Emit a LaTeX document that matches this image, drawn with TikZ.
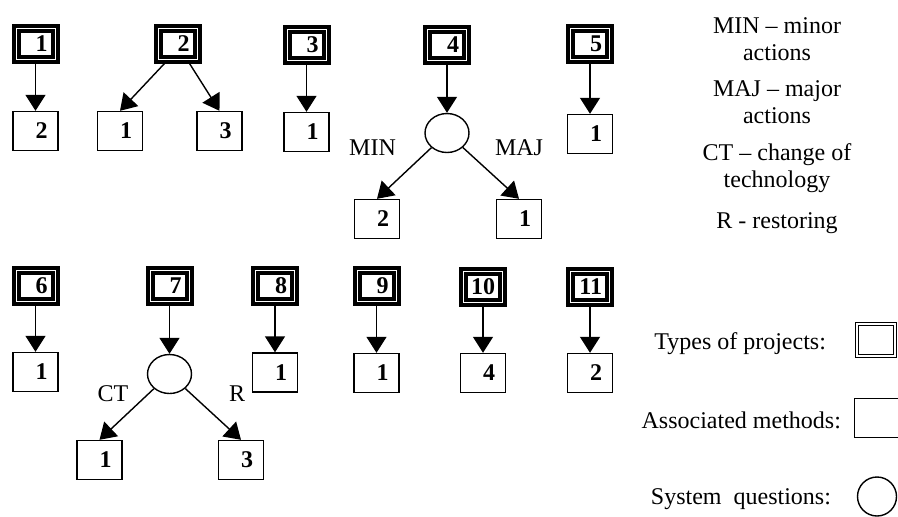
\documentclass[tikz,border=0pt]{standalone}
\usepackage{fontspec}
\setmainfont{Liberation Serif}
\usetikzlibrary{arrows.meta,shapes.geometric}

\tikzset{
  project/.style={draw, line width=0.8pt, double, double distance=0.5pt,
    preaction={draw, line width=4.5pt},
    minimum width=19.5pt, minimum height=15.5pt, inner sep=0pt,
    text width=12pt, align=right, font=\fontsize{12}{14}\selectfont\bfseries},
  method/.style={draw, line width=0.7pt, minimum width=22.5pt, minimum height=19.5pt,
    inner sep=0pt, text width=12pt, align=right, font=\fontsize{12}{14}\selectfont\bfseries},
  question/.style={draw, ellipse, line width=0.7pt, minimum width=22pt,
    minimum height=19.5pt, inner sep=0pt},
  link/.style={-{Triangle[width=10pt,length=8pt]}, line width=0.7pt},
}

\begin{document}
\begin{tikzpicture}[x=0.5pt, y=-0.5pt, every node/.style={font=\fontsize{12}{14}\selectfont}]
    \useasboundingbox (0,0) rectangle (898,516);

    % first row
    \node[project] (T1) at (35.5,44) {1};
    \node[project] (T2) at (177.5,44) {2};
    \node[project] (T3) at (306.5,45) {3};
    \node[project] (T4) at (447,45) {4};
    \node[project] (T5) at (590,44) {5};

    \node[method] (M1) at (35.5,131) {2};
    \node[method] (M2a) at (120,131) {1};
    \node[method] (M2b) at (219.5,131) {3};
    \node[method] (M3) at (306.5,132) {1};
    \node[question] (Q4) at (447,133) {};
    \node[method] (M4a) at (377,219) {2};
    \node[method] (M4b) at (519,219) {1};
    \node[method] (M5) at (590,134) {1};

    \draw[link] (T1) -- (M1);
    \draw[link] ([xshift=-5pt]T2.south) -- (M2a.north);
    \draw[link] ([xshift=5pt]T2.south) -- (M2b.north);
    \draw[link] (T3) -- (M3);
    \draw[link] (T4) -- (Q4);
    \draw[link] (Q4) -- (M4a.north);
    \draw[link] (Q4) -- (M4b.north);
    \draw[link] (T5) -- (M5);

    \node[anchor=base] (MIN) at (372.5,155) {MIN};
    \node[anchor=base] (MAJ) at (519,155) {MAJ};

    % second row
    \node[project] (T6) at (35.5,286) {6};
    \node[project] (T7) at (169.5,286) {7};
    \node[project] (T8) at (275,286) {8};
    \node[project] (T9) at (376.5,286) {9};
    \node[project] (T10) at (483,287) {10};
    \node[project] (T11) at (590,287) {11};

    \node[method] (M6) at (35.5,372) {1};
    \node[question] (Q7) at (169.5,374) {};
    \node[method] (M7a) at (99.5,460) {1};
    \node[method] (M7b) at (241,460) {3};
    \node[method] (M8) at (275,372.5) {1};
    \node[method] (M9) at (376.5,373) {1};
    \node[method] (M10) at (483,373) {4};
    \node[method] (M11) at (590,373) {2};

    \draw[link] (T6) -- (M6);
    \draw[link] (T7) -- (Q7);
    \draw[link] (Q7) -- (M7a.north);
    \draw[link] (Q7) -- (M7b.north);
    \draw[link] (T8) -- (M8);
    \draw[link] (T9) -- (M9);
    \draw[link] (T10) -- (M10);
    \draw[link] (T11) -- (M11);

    \node[anchor=base] (CT) at (113,401) {CT};
    \node[anchor=base] (R) at (237,401) {R};

    % abbreviations
    \node[anchor=base] (L1) at (777,33) {MIN -- minor};
    \node[anchor=base] (L1b) at (777,60) {actions};
    \node[anchor=base] (L2) at (777,96) {MAJ -- major};
    \node[anchor=base] (L2b) at (777,123) {actions};
    \node[anchor=base] (L3) at (777,160) {CT -- change of};
    \node[anchor=base] (L3b) at (777,187) {technology};
    \node[anchor=base] (L4) at (777,228) {R - restoring};

    % key
    \node[anchor=base east] (KT) at (833,349) {Types of projects:};
    \node[draw, double, line width=0.5pt, double distance=1pt,
          minimum width=19pt, minimum height=16pt] (KTbox) at (876,340) {};
    \node[anchor=base east] (KM) at (848,428) {Associated methods:};
    \node[method] (KMbox) at (877,418) {};
    \node[anchor=base east] (KQ) at (838,504) {System~~questions:};
    \node[draw, circle, line width=0.7pt, minimum size=19.5pt, inner sep=0pt] (KQc) at (877,496.5) {};
\end{tikzpicture}
\end{document}
